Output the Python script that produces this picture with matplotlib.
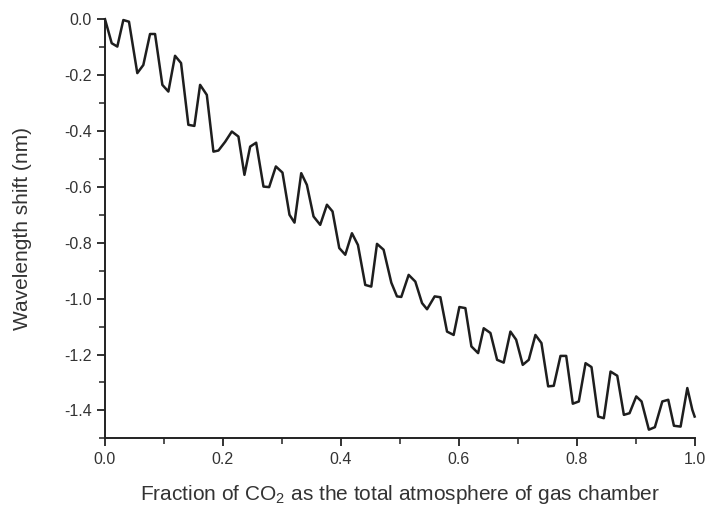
import matplotlib
matplotlib.use("Agg")
import matplotlib.pyplot as plt
from matplotlib.ticker import MultipleLocator, FormatStrFormatter

plt.rcParams['font.family'] = ['Liberation Sans', 'DejaVu Sans']
plt.rcParams['mathtext.fontset'] = 'custom'
plt.rcParams['mathtext.rm'] = 'Liberation Sans'
plt.rcParams['mathtext.it'] = 'Liberation Sans'

# values
fraction = [0.0, 0.0114, 0.0209, 0.0311, 0.0407, 0.0548, 0.065, 0.0764, 0.0849,
            0.0973, 0.1075, 0.1188, 0.129, 0.1414, 0.1516, 0.1613, 0.1727, 0.1839,
            0.1924, 0.2037, 0.2151, 0.2263, 0.2365, 0.2462, 0.2564, 0.2688, 0.2784,
            0.2898, 0.301, 0.3129, 0.3214, 0.3328, 0.3424, 0.3537, 0.365, 0.3764,
            0.3859, 0.3973, 0.4075, 0.4188, 0.429, 0.4414, 0.4516, 0.4613, 0.4725,
            0.4856, 0.4952, 0.5025, 0.515, 0.5263, 0.5377, 0.5462, 0.5591, 0.5688,
            0.5801, 0.5913, 0.601, 0.6112, 0.6214, 0.6328, 0.6423, 0.6537, 0.665,
            0.6762, 0.6876, 0.6973, 0.7085, 0.7187, 0.730, 0.7402, 0.7516, 0.7611,
            0.7725, 0.7822, 0.7934, 0.8036, 0.815, 0.8251, 0.8365, 0.846, 0.8574,
            0.8688, 0.88, 0.8896, 0.901, 0.91, 0.9224, 0.9326, 0.9452, 0.9553,
            0.9649, 0.9762, 0.9876, 0.9961, 1.0]
shift = [0.0, -0.086, -0.098, -0.003, -0.009, -0.193, -0.164, -0.053, -0.053,
         -0.235, -0.259, -0.131, -0.157, -0.378, -0.382, -0.235, -0.271, -0.474,
         -0.470, -0.439, -0.402, -0.420, -0.557, -0.456, -0.442, -0.599, -0.601,
         -0.527, -0.549, -0.700, -0.728, -0.551, -0.593, -0.706, -0.736, -0.664,
         -0.688, -0.819, -0.843, -0.766, -0.808, -0.951, -0.957, -0.804, -0.825,
         -0.943, -0.992, -0.994, -0.915, -0.939, -1.016, -1.038, -0.992, -0.995,
         -1.118, -1.130, -1.030, -1.034, -1.171, -1.195, -1.106, -1.123, -1.219,
         -1.229, -1.118, -1.147, -1.237, -1.219, -1.130, -1.159, -1.314, -1.312,
         -1.205, -1.205, -1.376, -1.368, -1.231, -1.245, -1.422, -1.428, -1.261,
         -1.276, -1.416, -1.410, -1.350, -1.368, -1.469, -1.460, -1.368, -1.362,
         -1.455, -1.458, -1.320, -1.398, -1.422]

fig = plt.figure(figsize=(7.07, 5.05), dpi=100)
ax = fig.add_axes([0.1485, 0.132, 0.834, 0.830])

ax.plot(fraction, shift, color='#1e1e1e', linewidth=1.8, clip_on=False)

ax.set_xlim(0, 1.0)
ax.set_ylim(-1.5, 0.0)
ax.xaxis.set_major_locator(MultipleLocator(0.2))
ax.xaxis.set_minor_locator(MultipleLocator(0.1))
ax.yaxis.set_major_locator(MultipleLocator(0.2))
ax.yaxis.set_minor_locator(MultipleLocator(0.1))
ax.xaxis.set_major_formatter(FormatStrFormatter('%.1f'))
ax.yaxis.set_major_formatter(FormatStrFormatter('%.1f'))

for side in ['top', 'right']:
    ax.spines[side].set_visible(False)
for side in ['left', 'bottom']:
    ax.spines[side].set_linewidth(1.4)
    ax.spines[side].set_color('#222222')

ax.tick_params(which='major', direction='out', length=6, width=1.3,
               colors='#222222', labelsize=11.5, labelcolor='#333333')
ax.tick_params(which='minor', direction='out', length=4, width=1.1, colors='#222222')

ax.set_xlabel("Fraction of CO$_2$ as the total atmosphere of gas chamber",
              fontsize=15, color='#333333', labelpad=12)
ax.set_ylabel("Wavelength shift (nm)", fontsize=15, color='#333333', labelpad=23)

fig.savefig("out.png", dpi=100)
